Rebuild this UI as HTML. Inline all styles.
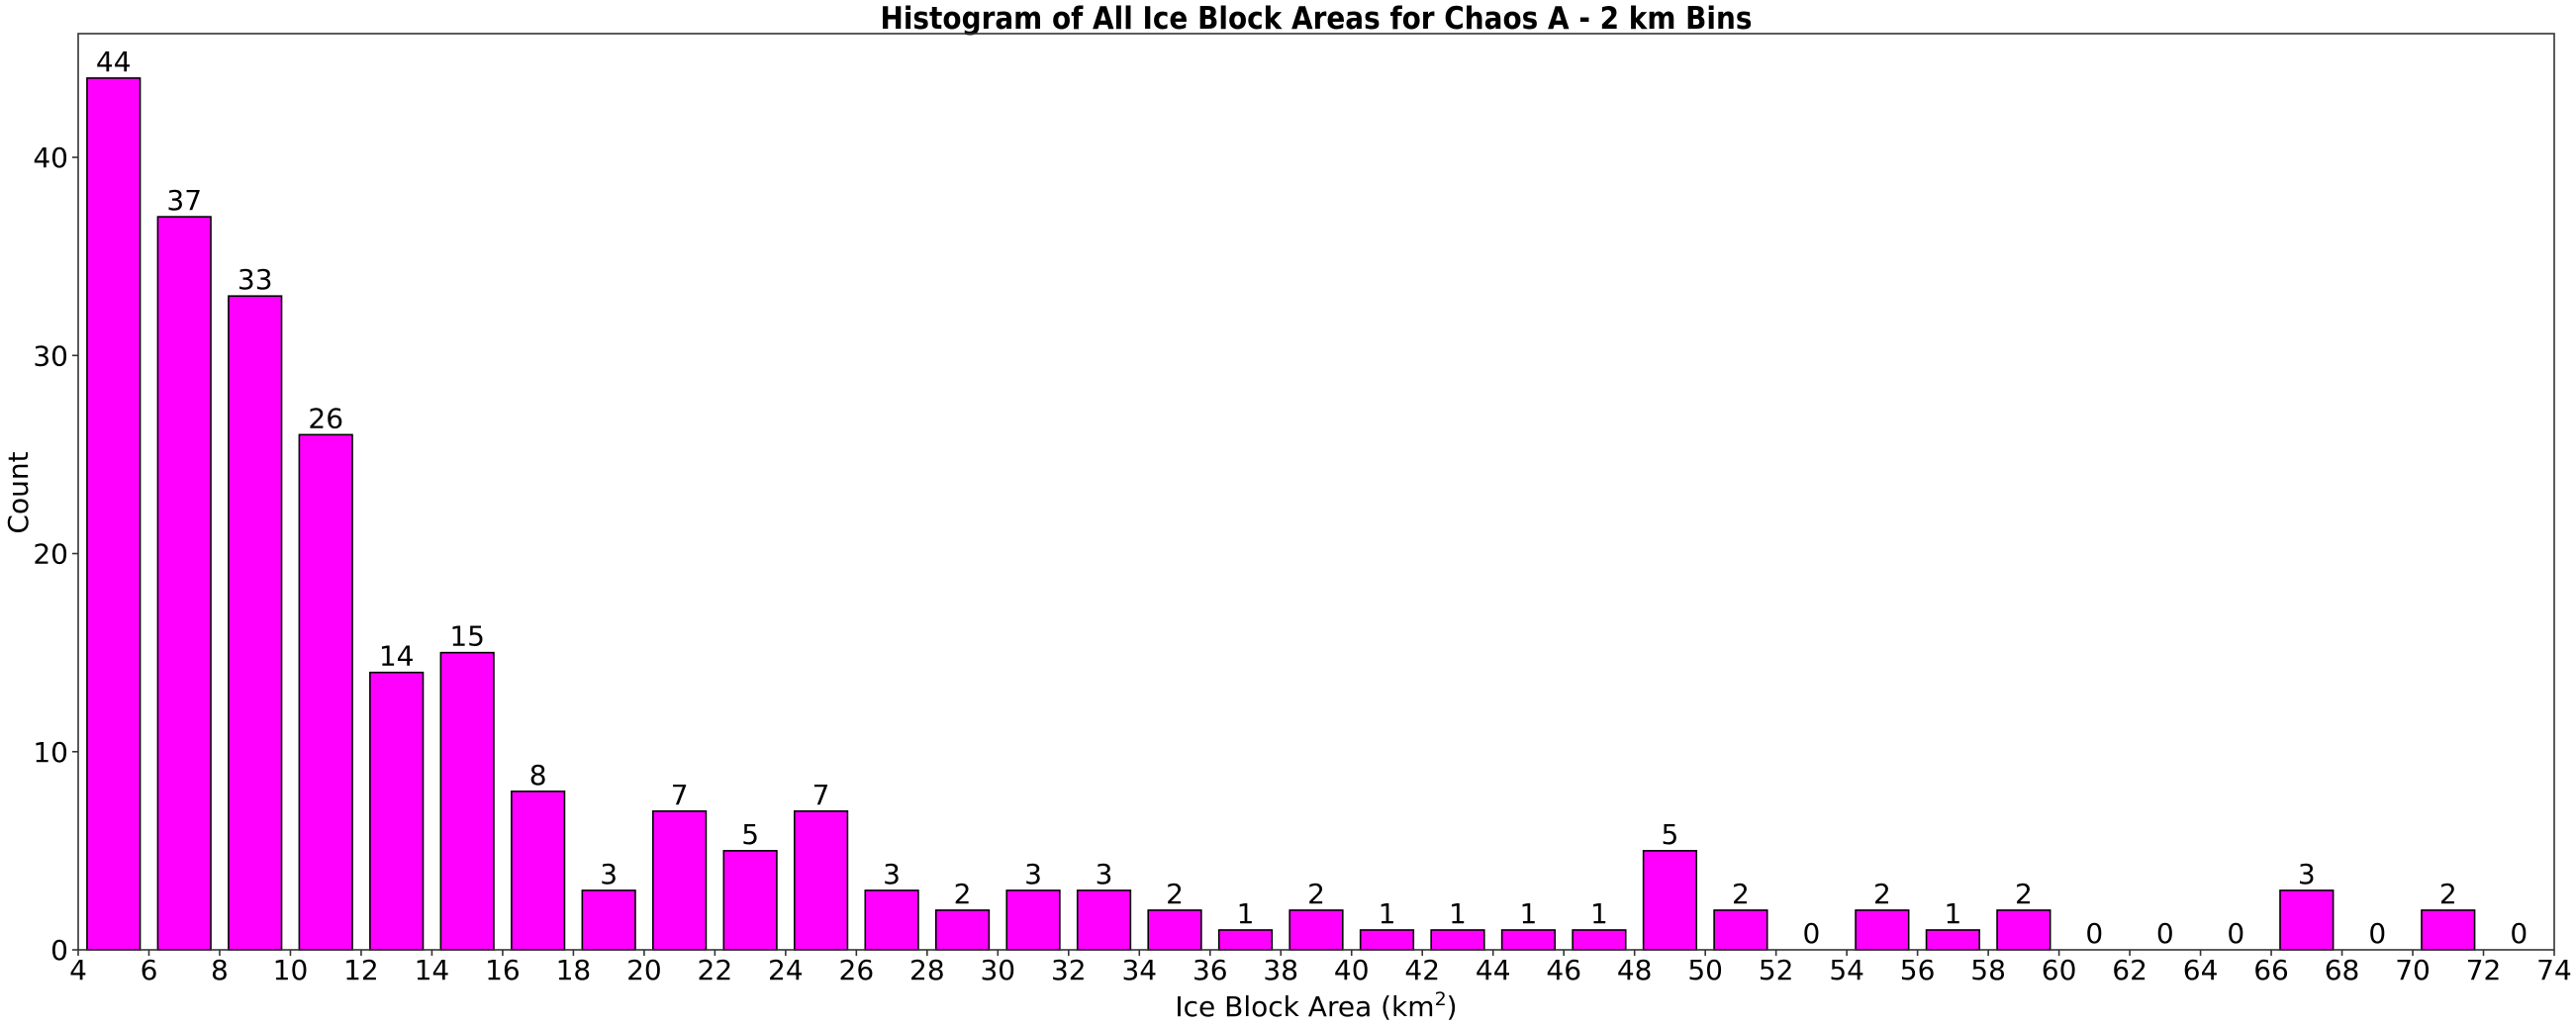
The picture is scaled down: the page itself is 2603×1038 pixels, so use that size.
<!DOCTYPE html>
<html><head><meta charset="utf-8"><style>
body{margin:0;background:#fff}
svg{display:block;font-family:"DejaVu Sans","Liberation Sans",sans-serif}
</style></head><body>
<svg id="chart" width="2603" height="1038" viewBox="0 0 2603 1038" xmlns="http://www.w3.org/2000/svg">
<text x="1330" y="29" text-anchor="middle" font-size="31" font-weight="bold" textLength="881" lengthAdjust="spacingAndGlyphs">Histogram of All Ice Block Areas for Chaos A - 2 km Bins</text>
<g id="bars"></g>
<g id="xticks"></g>
<g id="yticks"></g>
<rect x="79" y="34" width="2502" height="926" fill="none" stroke="#333" stroke-width="1.6"/>
<text x="1330" y="1027" text-anchor="middle" font-size="28">Ice Block Area (km<tspan dy="-11" font-size="19">2</tspan><tspan dy="11">)</tspan></text>
<text transform="translate(28,498) rotate(-90)" text-anchor="middle" font-size="28">Count</text>
</svg>
<script>
const binStarts = [4,6,8,10,12,14,16,18,20,22,24,26,28,30,32,34,36,38,40,42,44,46,48,50,52,54,56,58,60,62,64,66,68,70,72];
const counts = [44,37,33,26,14,15,8,3,7,5,7,3,2,3,3,2,1,2,1,1,1,1,5,2,0,2,1,2,0,0,0,3,0,2,0];
const xTicks = [4,6,8,10,12,14,16,18,20,22,24,26,28,30,32,34,36,38,40,42,44,46,48,50,52,54,56,58,60,62,64,66,68,70,72,74];
const yTicks = [0,10,20,30,40];
const binWidth = 2, barFrac = 0.75;
const X0=79,X1=2581,Y0=960,Y1=34,xmin=4,xmax=74,ymax=Math.max(...counts)*1.051;
const sx=v=>X0+(v-xmin)/(xmax-xmin)*(X1-X0);
const sy=v=>Y0-v/ymax*(Y0-Y1);
const NS="http://www.w3.org/2000/svg";
const bars=document.getElementById('bars');
counts.forEach((c,i)=>{
  const c0=binStarts[i]+binWidth*(1-barFrac)/2, c1=c0+binWidth*barFrac;
  const r=document.createElementNS(NS,'rect');
  
  
  r.setAttribute('x',sx(c0));r.setAttribute('y',sy(c));
  r.setAttribute('width',sx(c1)-sx(c0));r.setAttribute('height',Y0-sy(c));
  r.setAttribute('fill','#ff00ff');r.setAttribute('stroke','#000');r.setAttribute('stroke-width','1.6');
  bars.appendChild(r);
  const t=document.createElementNS(NS,'text');
  
  
  t.setAttribute('x',sx(binStarts[i]+binWidth/2));t.setAttribute('y',sy(c)-7);
  t.setAttribute('text-anchor','middle');t.setAttribute('font-size','28');
  t.textContent=c;bars.appendChild(t);
});
const xg=document.getElementById('xticks');
xTicks.forEach(v=>{
  const l=document.createElementNS(NS,'line');
  
  
  l.setAttribute('x1',sx(v));l.setAttribute('x2',sx(v));l.setAttribute('y1',Y0);l.setAttribute('y2',Y0+6);
  l.setAttribute('stroke','#333');l.setAttribute('stroke-width','1.6');xg.appendChild(l);
  const t=document.createElementNS(NS,'text');
  
  
  t.setAttribute('x',sx(v));t.setAttribute('y',Y0+30);t.setAttribute('text-anchor','middle');t.setAttribute('font-size','28');
  t.textContent=v;xg.appendChild(t);
});
const yg=document.getElementById('yticks');
yTicks.forEach(v=>{
  const l=document.createElementNS(NS,'line');
  
  
  l.setAttribute('x1',X0-6);l.setAttribute('x2',X0);l.setAttribute('y1',sy(v));l.setAttribute('y2',sy(v));
  l.setAttribute('stroke','#333');l.setAttribute('stroke-width','1.6');yg.appendChild(l);
  const t=document.createElementNS(NS,'text');
  
  
  t.setAttribute('x',X0-10);t.setAttribute('y',sy(v)+10);t.setAttribute('text-anchor','end');t.setAttribute('font-size','28');
  t.textContent=v;yg.appendChild(t);
});
</script>
</body></html>
